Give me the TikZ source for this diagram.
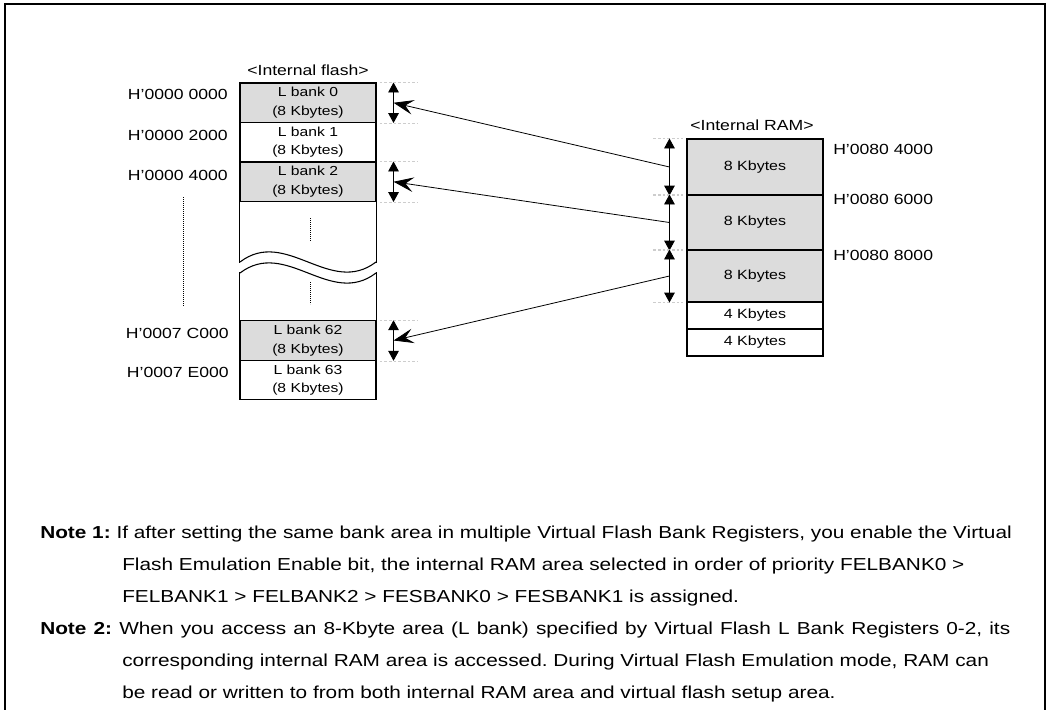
\documentclass[tikz,border=0pt]{standalone}
\usepackage{fontspec}
\setmainfont{Liberation Sans}[FakeStretch=1.2]
\usepackage{tikz}
\usetikzlibrary{arrows.meta,calc}
\definecolor{bankfill}{RGB}{220,220,220}
\definecolor{guidegray}{RGB}{205,205,205}
\tikzset{
  bank/.style  ={draw, line width=0.8pt, minimum width=102pt, minimum height=29.6pt, inner sep=0pt, align=center, font=\fontsize{9.8}{14}\selectfont},
  ramrow/.style={draw, line width=0.8pt, minimum width=102pt, inner sep=0pt, align=center, font=\fontsize{10}{12}\selectfont},
  addr/.style  ={inner sep=0pt, font=\fontsize{11}{12}\selectfont},
  title/.style ={inner sep=0pt, font=\fontsize{11}{12}\selectfont},
  dbl/.style   ={{Triangle[length=7.5pt,width=8pt]}-{Triangle[length=7.5pt,width=8pt]}, line width=0.7pt},
  map/.style   ={-{Stealth[length=15pt,width=11pt,inset=6pt]}, line width=0.6pt},
  guide/.style ={guidegray, dash pattern=on 2pt off 1.5pt, line width=0.4pt},
  dots/.style  ={dash pattern=on 0.6pt off 0.9pt, line width=0.7pt},
  note/.style  ={inner sep=0pt, align=left, font=\fontsize{13}{24}\selectfont\frenchspacing}
}
\newcommand\fullline[1]{\makebox[727.5pt][s]{#1}}
\newcommand\contline[1]{\hspace*{61.5pt}#1}
\begin{document}
\begin{tikzpicture}[x=0.75pt,y=-0.75pt]
  \useasboundingbox (0,0) rectangle (1049,710);
  \draw[line width=0.9pt] (5,710) -- (5,4) -- (1045,4) -- (1045,710);
  \node[title] (flashtitle) at (308,70) {<Internal flash>};
  \node[bank, fill=bankfill] (b0)  at (308,102.75) {L bank 0\\(8 Kbytes)};
  \node[bank]                (b1)  at (308,142.25) {L bank 1\\(8 Kbytes)};
  \node[bank, fill=bankfill] (b2)  at (308,181.75) {L bank 2\\(8 Kbytes)};
  \node[bank, fill=bankfill] (b62) at (308,340.5)  {L bank 62\\(8 Kbytes)};
  \node[bank]                (b63) at (308,380)    {L bank 63\\(8 Kbytes)};
  \draw[line width=0.8pt] (b2.south west) -- ++(0,60.5) (b2.south east) -- ++(0,60.5);
  \draw[line width=0.8pt] (b62.north west) -- ++(0,-48) (b62.north east) -- ++(0,-48);
  \draw[line width=0.8pt] (240,262) .. controls (286,227) and (330,297) .. (376,262);
  \draw[line width=0.8pt] (240,273) .. controls (286,238) and (330,308) .. (376,273);
  \draw[dots] (310,218) -- (310,241);
  \draw[dots] (310,282) -- (310,304);
  \draw[dots] (183,197) -- (183,306);
  \node[addr, anchor=east] (a0)  at (228,94)  {H’0000 0000};
  \node[addr, anchor=east] (a1)  at (228,135) {H’0000 2000};
  \node[addr, anchor=east] (a2)  at (228,175) {H’0000 4000};
  \node[addr, anchor=east] (a62) at (229,333) {H’0007 C000};
  \node[addr, anchor=east] (a63) at (229,372) {H’0007 E000};
  \node[title] (ramtitle) at (752,125) {<Internal RAM>};
  \node[ramrow, fill=bankfill, minimum height=42pt]    (r0) at (755,167)   {8 Kbytes};
  \node[ramrow, fill=bankfill, minimum height=41.25pt] (r1) at (755,222.5) {8 Kbytes};
  \node[ramrow, fill=bankfill, minimum height=39pt]    (r2) at (755,276)   {8 Kbytes};
  \node[ramrow, minimum height=20.25pt] (r3) at (755,315.5) {4 Kbytes};
  \node[ramrow, minimum height=20.25pt] (r4) at (755,342.5) {4 Kbytes};
  \node[addr, anchor=west] (ra0) at (833,149) {H’0080 4000};
  \node[addr, anchor=west] (ra1) at (833,199) {H’0080 6000};
  \node[addr, anchor=west] (ra2) at (833,255) {H’0080 8000};
  \foreach \b in {b0,b2,b62} {
    \draw[guide] ($(\b.north east)+(3,0)$) -- ++(38,0);
    \draw[guide] ($(\b.south east)+(3,0)$) -- ++(38,0);
    \draw[dbl] ($(\b.north east)+(17,0)$) -- ($(\b.south east)+(17,0)$);
  }
  \foreach \r in {r0,r1,r2} {
    \draw[guide] ($(\r.north west)+(-33,0)$) -- ++(30,0);
    \draw[guide] ($(\r.south west)+(-33,0)$) -- ++(30,0);
    \draw[dbl] ($(\r.north west)+(-17,0)$) -- ($(\r.south west)+(-17,0)$);
  }
  \coordinate (s0) at ($(r0.west)+(-17,0)$);
  \coordinate (s1) at ($(r1.west)+(-17,0)$);
  \coordinate (s2) at ($(r2.west)+(-17,0)$);
  \coordinate (t0) at ($(b0.east)+(17,0)$);
  \coordinate (t1) at ($(b2.east)+(17,0)$);
  \coordinate (t2) at ($(b62.east)+(17,0)$);
  \draw[map] (s0) -- (t0);
  \draw[map] (s1) -- (t1);
  \draw[map] (s2) -- (t2);
  \node[note, anchor=north west] (notes) at (40,526) {\textbf{Note 1:} If after setting the same bank area in multiple Virtual Flash Bank Registers, you enable the Virtual\\
    \contline{Flash Emulation Enable bit, the internal RAM area selected in order of priority FELBANK0 >}\\
    \contline{FELBANK1 > FELBANK2 > FESBANK0 > FESBANK1 is assigned.}\\
    \fullline{\textbf{Note 2:} When you access an 8-Kbyte area (L bank) specified by Virtual Flash L Bank Registers 0-2, its}\\
    \contline{corresponding internal RAM area is accessed. During Virtual Flash Emulation mode, RAM can}\\
    \contline{be read or written to from both internal RAM area and virtual flash setup area.}};
\end{tikzpicture}
\end{document}
